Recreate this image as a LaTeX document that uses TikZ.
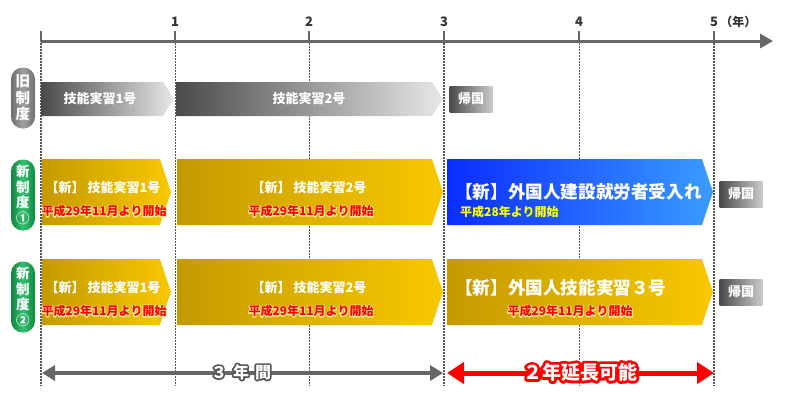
\documentclass[tikz,border=0pt]{standalone}
\usepackage{fontspec}
\setmainfont{Noto Sans CJK JP}
\usepackage{xcolor}
\usetikzlibrary{shapes.symbols, shapes.misc, arrows.meta, positioning}

\definecolor{axisgrey}{HTML}{666666}
\definecolor{guidegrey}{HTML}{555555}
\definecolor{bardark}{HTML}{4A4A4A}
\definecolor{barlight}{HTML}{E8E8E8}
\definecolor{golddark}{HTML}{C59A00}
\definecolor{goldlight}{HTML}{F8C800}
\definecolor{bluedark}{HTML}{0A2CFF}
\definecolor{bluelight}{HTML}{3A9CFF}
\definecolor{greenedge}{HTML}{12873F}
\definecolor{greenmid}{HTML}{33C072}
\definecolor{badgeedge}{HTML}{6E6E6E}
\definecolor{badgemid}{HTML}{A0A0A0}
\definecolor{startred}{HTML}{FF0000}
\definecolor{startyellow}{HTML}{FFFF00}

% text over a stroked copy in another colour (#1 rgb, #2 stroke width)
\newcommand\outlinetext[3]{%
  \leavevmode
  \rlap{\special{pdf:code 1 Tr #2 w 1 j #1 RG}#3\special{pdf:code 0 Tr}}%
  #3}
\newcommand\startdate[1]{\outlinetext{1 0.93 0.6}{2}{#1}}

\tikzset{
  axisline/.style={line width=3pt, draw=axisgrey, -{Triangle[length=13pt, width=14pt]}},
  tick/.style={line width=2pt, draw=axisgrey},
  guide/.style={draw=guidegrey, dash pattern=on 1.5pt off 1.5pt},
  yearlabel/.style={text=black!80, font=\bfseries\fontsize{13}{15}\selectfont, inner sep=0pt},
  bar/.style={signal, signal to=east, signal from=nowhere, anchor=west, inner sep=0pt, outer sep=0pt},
  low/.style={minimum height=34pt, signal pointer angle=114},
  tall/.style={minimum height=66pt, signal pointer angle=143},
  greybar/.style={left color=bardark, right color=barlight},
  goldbar/.style={left color=golddark, right color=goldlight},
  bluebar/.style={left color=bluedark, right color=bluelight},
  bartext/.style={text=white, font=\bfseries\fontsize{13}{15}\selectfont, inner sep=0pt},
  bigtext/.style={text=white, font=\bfseries\fontsize{17.6}{19}\selectfont, inner sep=0pt, anchor=west},
  starttext/.style={text=startred, font=\bfseries\fontsize{12}{14}\selectfont, inner sep=0pt},
  homebox/.style={rectangle, minimum width=43pt, minimum height=26pt, inner sep=0pt,
    left color=bardark, right color=black!20, text=white, font=\bfseries\fontsize{13}{15}\selectfont},
  badge/.style={rectangle, rounded corners=11.5pt, minimum width=24pt, inner sep=0pt, text=white, align=center},
  greybadge/.style={left color=badgeedge, right color=badgeedge, middle color=badgemid,
    minimum height=61pt, font=\bfseries\fontsize{14.5}{16.5}\selectfont},
  greenbadge/.style={left color=greenedge, right color=greenedge, middle color=greenmid,
    minimum height=71pt, font=\bfseries\fontsize{13.5}{15.5}\selectfont},
  spanarrow/.style={line width=4pt, draw=axisgrey, {Triangle[length=13pt, width=15pt]}-{Triangle[length=13pt, width=15pt]}},
  extarrow/.style={line width=5pt, draw=startred, {Triangle[length=17pt, width=21pt]}-{Triangle[length=17pt, width=21pt]}},
}

\begin{document}
\begin{tikzpicture}[x=1pt, y=-1pt]
\useasboundingbox (0,0) rectangle (800,408);

% time axis
\coordinate (origin) at (41,41);
\coordinate (axisend) at (773,41);
\foreach \x/\w in {41/1.6,175/1,309/1,444/1.6,579/1,714/1.6}
  \draw[guide, line width=\w pt] (\x,43) -- (\x,386);
\draw[axisline] (origin) -- (axisend);
\draw[tick] (41,31) -- (41,42);
\foreach \x/\n in {175/1,309/2,444/3,579/4,714/5} {
  \draw[tick] (\x,31) -- (\x,42);
  \node[yearlabel] (year\n) at (\x,22) {\n};
}
\node[yearlabel, font=\bfseries\fontsize{12}{14}\selectfont, right=2pt of year5] (yearunit) {（年）};

% old system
\node[badge, greybadge] (oldbadge) at (23,98) {旧\\制\\度};
\node[bar, low, greybar, minimum width=133pt] (old1) at (41,99) {};
\node[bar, low, greybar, minimum width=267pt] (old2) at (176,99) {};
\node[bartext] (old1txt) at (100,99) {技能実習1号};
\node[bartext] (old2txt) at (309,99) {技能実習2号};
\node[homebox] (home0) at (471,99) {帰国};

% new system 1
\node[badge, greenbadge] (newbadgeA) at (23,195) {新\\制\\度\\①};
\node[bar, tall, goldbar, minimum width=129pt] (newA1) at (42,192) {};
\node[bar, tall, goldbar, minimum width=266pt] (newA2) at (177,192) {};
\node[bar, tall, bluebar, minimum width=266pt] (newA3) at (447,192) {};
\node[bartext] (newA1txt) at (103,188) {【新】 技能実習1号};
\node[starttext] (newA1sub) at (104,211) {\startdate{平成29年11月より開始}};
\node[bartext] (newA2txt) at (309,188) {【新】 技能実習2号};
\node[starttext] (newA2sub) at (311,211) {\startdate{平成29年11月より開始}};
\node[bigtext] (newA3txt) at (455,192) {【新】外国人建設就労者受入れ};
\node[starttext, text=startyellow, anchor=west] (newA3sub) at (460,212) {平成28年より開始};
\node[homebox] (homeA) at (741,194) {帰国};

% new system 2
\node[badge, greenbadge] (newbadgeB) at (23,297) {新\\制\\度\\②};
\node[bar, tall, goldbar, minimum width=129pt] (newB1) at (42,292) {};
\node[bar, tall, goldbar, minimum width=266pt] (newB2) at (177,292) {};
\node[bar, tall, goldbar, minimum width=266pt] (newB3) at (447,292) {};
\node[bartext] (newB1txt) at (103,288) {【新】 技能実習1号};
\node[starttext] (newB1sub) at (104,311) {\startdate{平成29年11月より開始}};
\node[bartext] (newB2txt) at (309,288) {【新】 技能実習2号};
\node[starttext] (newB2sub) at (311,311) {\startdate{平成29年11月より開始}};
\node[bigtext] (newB3txt) at (455,288) {【新】外国人技能実習３号};
\node[starttext] (newB3sub) at (570,311) {\startdate{平成29年11月より開始}};
\node[homebox] (homeB) at (741,292) {帰国};

% spans
\coordinate (spanA) at (42,373);
\coordinate (spanB) at (443,373);
\draw[spanarrow] (spanA) -- (spanB);
\node[text=white, font=\bfseries\fontsize{16}{18}\selectfont, inner sep=0pt] (spantxt) at (241,372)
  {\outlinetext{0.33 0.33 0.33}{3.5}{３\hspace{6pt}年\hspace{6pt}間}};
\coordinate (extA) at (447,373);
\coordinate (extB) at (714,373);
\draw[extarrow] (extA) -- (extB);
\node[text=white, font=\bfseries\fontsize{19}{21}\selectfont, inner sep=0pt] (exttxt) at (580,372)
  {\outlinetext{1 0 0}{5.5}{２年延長可能}};

\end{tikzpicture}
\end{document}
